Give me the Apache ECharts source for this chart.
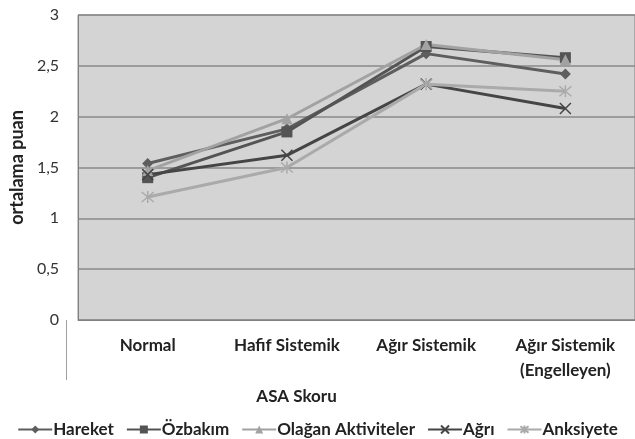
<!DOCTYPE html>
<html><head><meta charset="utf-8">
<script src="https://cdn.jsdelivr.net/npm/echarts@6/dist/echarts.min.js"></script>
<style>html,body{margin:0;padding:0;background:#fff}#c{width:635px;height:439px}</style>
</head><body><div id="c"></div>
<script>
const categories = ['Normal', 'Hafif Sistemik', 'Ağır Sistemik', 'Ağır Sistemik\n(Engelleyen)'];
const yTicks = ['0', '0,5', '1', '1,5', '2', '2,5', '3'];
const hareket = [1.54, 1.88, 2.62, 2.42];
const ozbakim = [1.40, 1.85, 2.69, 2.58];
const olagan = [1.47, 1.98, 2.71, 2.56];
const agri = [1.43, 1.62, 2.32, 2.08];
const anksiyete = [1.21, 1.50, 2.32, 2.25];

const FONT = 'Lato';
const xPath = 'path://M0,0L10,10M10,0L0,10';
const starPath = 'path://M0,0L10,10M10,0L0,10M5,-1L5,11';
function mk(name, data, color, symbol, size, stroke) {
  const s = {
    name, type: 'line', data, symbol, symbolSize: size,
    lineStyle: { color, width: 3 },
    itemStyle: { color },
    emphasis: { disabled: true }
  };
  if (stroke) s.itemStyle = { color: 'rgba(0,0,0,0)', borderColor: color, borderWidth: 1.5 };
  return s;
}
const chart = echarts.init(document.getElementById('c'), null, { renderer: 'canvas' });
chart.setOption({
  animation: false,
  backgroundColor: '#fff',
  grid: { left: 66, top: 15, width: 572, height: 305, show: true, backgroundColor: '#d4d4d4', borderColor: '#808080', borderWidth: 1 },
  xAxis: {
    type: 'category', data: categories, boundaryGap: true,
    name: 'ASA Skoru', nameLocation: 'middle', nameGap: 67,
    nameTextStyle: { fontFamily: FONT, fontWeight: 'bold', fontSize: 17, color: '#222', padding: [0, 120, 0, 0] },
    axisLine: { lineStyle: { color: '#808080' } }, axisTick: { show: false },
    axisLabel: { fontFamily: FONT, fontWeight: 'bold', fontSize: 17, color: '#222', margin: 13, lineHeight: 25, interval: 0 }
  },
  yAxis: {
    type: 'value', min: 0, max: 3, interval: 0.5,
    name: 'ortalama puan', nameLocation: 'middle', nameGap: 47, nameRotate: 90,
    nameTextStyle: { fontFamily: FONT, fontWeight: 'bold', fontSize: 18, color: '#222' },
    axisLine: { show: true, lineStyle: { color: '#808080' } }, axisTick: { show: false },
    splitLine: { lineStyle: { color: '#8a8a8a', width: 1.5 } },
    axisLabel: { fontFamily: FONT, fontSize: 16, color: '#333', margin: 19,
      formatter: v => yTicks[Math.round(v * 2)] }
  },
  legend: {
    top: 416, left: 'center', itemGap: 12, itemWidth: 34, itemHeight: 10,
    textStyle: { fontFamily: FONT, fontWeight: 'bold', fontSize: 17, color: '#222', padding: [0, 0, 0, -4] },
    data: ['Hareket', 'Özbakım', 'Olağan Aktiviteler', 'Ağrı', 'Anksiyete']
  },
  graphic: [{ type: 'line', shape: { x1: 66.5, y1: 320, x2: 66.5, y2: 380 }, style: { stroke: '#a0a0a0', lineWidth: 1 } }],
  series: [
    mk('Hareket', hareket, '#5e5e5e', 'diamond', 11),
    mk('Özbakım', ozbakim, '#545454', 'rect', 11),
    mk('Olağan Aktiviteler', olagan, '#a2a2a2', 'triangle', 11),
    mk('Ağrı', agri, '#454545', xPath, 11, true),
    mk('Anksiyete', anksiyete, '#aaaaaa', starPath, 12, true)
  ]
});
</script></body></html>
